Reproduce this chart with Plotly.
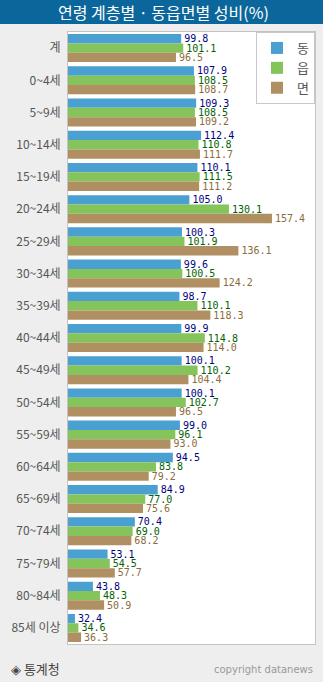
import plotly.graph_objects as go

categories = ["계", "0~4세", "5~9세", "10~14세", "15~19세", "20~24세", "25~29세",
              "30~34세", "35~39세", "40~44세", "45~49세", "50~54세", "55~59세",
              "60~64세", "65~69세", "70~74세", "75~79세", "80~84세", "85세 이상"]
dong = [99.8, 107.9, 109.3, 112.4, 110.1, 105.0, 100.3, 99.6, 98.7, 99.9, 100.1,
        100.1, 99.0, 94.5, 84.9, 70.4, 53.1, 43.8, 32.4]
eup = [101.1, 108.5, 108.5, 110.8, 111.5, 130.1, 101.9, 100.5, 110.1, 114.8, 110.2,
       102.7, 96.1, 83.8, 77.0, 69.0, 54.5, 48.3, 34.6]
myeon = [96.5, 108.7, 109.2, 111.7, 111.2, 157.4, 136.1, 124.2, 118.3, 114.0, 104.4,
         96.5, 93.0, 79.2, 75.6, 68.2, 57.7, 50.9, 36.3]
series_names = ["동", "읍", "면"]

bar_colors = ["#4AA0D0", "#84C45A", "#B09062"]
text_colors = ["#000080", "#006400", "#8B6B3B"]

W, H = 323, 682
ML, MR, MT, MB = 68, 8, 32, 38
PW, PH = W - ML - MR, H - MT - MB

fig = go.Figure()
for name, vals, bc, tc in zip(series_names, [dong, eup, myeon], bar_colors, text_colors):
    fig.add_trace(go.Bar(
        y=categories, x=vals, name=name, orientation="h",
        marker=dict(color=bc, line=dict(width=0)),
        text=[f"{v:.1f}" for v in vals], textposition="outside",
        textfont=dict(family="DejaVu Sans Mono", size=10, color=tc),
        constraintext="none", cliponaxis=False, hoverinfo="skip",
    ))

def px_to_py(y):
    return 1 - (y - MT) / PH

def px_to_px(x):
    return (x - ML) / PW

fig.update_layout(
    width=W, height=H,
    margin=dict(l=ML, r=MR, t=MT, b=MB, pad=0),
    paper_bgcolor="#EEEEEE", plot_bgcolor="#FFFFFF",
    barmode="group", bargap=0.13, bargroupgap=0,
    showlegend=True,
    legend=dict(x=1, xanchor="right", y=1, yanchor="top", traceorder="normal",
                bgcolor="#FFFFFF", bordercolor="#C8C8C8", borderwidth=1,
                font=dict(family="Noto Sans CJK KR", size=13, color="#555555"),
                itemwidth=30, tracegroupgap=3),
    xaxis=dict(range=[28, 184.7], showgrid=False, zeroline=False, showticklabels=False,
               showline=True, mirror=True, linecolor="#C4C4C4", linewidth=1, ticks=""),
    yaxis=dict(autorange="reversed", showgrid=False, zeroline=False,
               showline=True, mirror=True, linecolor="#C4C4C4", linewidth=1, ticks="",
               tickfont=dict(family="Noto Sans CJK KR", size=12, color="#555555"),
               ticklabelstandoff=4),
    shapes=[dict(type="rect", xref="paper", yref="paper",
                 x0=px_to_px(0), x1=px_to_px(W), y0=px_to_py(24), y1=px_to_py(0),
                 fillcolor="#0B679B", line=dict(width=0), layer="above")],
    annotations=[
        dict(text="연령 계층별 · 동읍면별 성비(%)", xref="paper", yref="paper",
             x=px_to_px(163), y=px_to_py(12), xanchor="center", yanchor="middle",
             showarrow=False, font=dict(family="Noto Sans CJK KR", size=16, color="#FFFFFF")),
        dict(text="◈ 통계청", xref="paper", yref="paper",
             x=px_to_px(9), y=px_to_py(668), xanchor="left", yanchor="middle",
             showarrow=False, font=dict(family="Noto Sans CJK KR", size=13, color="#444444")),
        dict(text="copyright datanews", xref="paper", yref="paper",
             x=px_to_px(315), y=px_to_py(669), xanchor="right", yanchor="middle",
             showarrow=False, font=dict(family="DejaVu Sans", size=10, color="#999999")),
    ],
)

fig.write_html("out.html")
